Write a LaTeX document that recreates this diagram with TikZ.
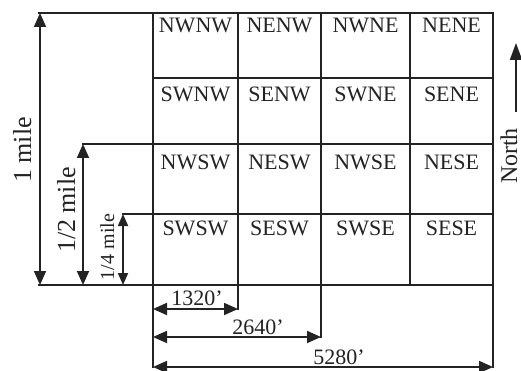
\documentclass[tikz,border=0pt]{standalone}
\usepackage{fontspec}
\setmainfont{Liberation Serif}
\usetikzlibrary{arrows.meta}
\definecolor{ink}{RGB}{35,35,35}
\begin{document}
\begin{tikzpicture}[x=1pt,y=-1pt,
  gridline/.style={draw=ink, line width=1.8pt, line cap=rect},
  dim/.style={draw=ink, line width=1.8pt, {Triangle[length=14pt,width=12pt]}-{Triangle[length=14pt,width=12pt]}},
  smalldim/.style={draw=ink, line width=1.8pt, {Triangle[length=12pt,width=10pt]}-{Triangle[length=12pt,width=10pt]}},
  cell/.style={font=\fontsize{22}{24}\selectfont, text=ink, inner sep=0pt},
  dimlabel/.style={font=\fontsize{22}{24}\selectfont, text=ink, inner sep=0pt, anchor=base},
  vlabel/.style={font=\fontsize{26}{28}\selectfont, text=ink, inner sep=0pt, anchor=base, rotate=90},
  svlabel/.style={font=\fontsize{20}{22}\selectfont, text=ink, inner sep=0pt, anchor=base, rotate=90}]
\useasboundingbox (0,0) rectangle (521,371);
\fill[white] (0,0) rectangle (521,371);

% grid and extension lines
\draw[gridline] (39,13) -- (493,13);
\draw[gridline] (39,285) -- (493,285);
\draw[gridline] (153,78) -- (493,78);
\draw[gridline] (83,144) -- (493,144);
\draw[gridline] (123,214) -- (493,214);
\draw[gridline] (153,13) -- (153,367);
\draw[gridline] (238,13) -- (238,309);
\draw[gridline] (321,13) -- (321,337);
\draw[gridline] (410,13) -- (410,285);
\draw[gridline] (493,13) -- (493,367);

% cell labels
\node[cell] (nwnw) at (195.5,25) {NWNW};
\node[cell] (nenw) at (279.5,25) {NENW};
\node[cell] (nwne) at (365.5,25) {NWNE};
\node[cell] (nene) at (451.5,25) {NENE};
\node[cell] (swnw) at (195.5,94) {SWNW};
\node[cell] (senw) at (279.5,94) {SENW};
\node[cell] (swne) at (365.5,94) {SWNE};
\node[cell] (sene) at (451.5,94) {SENE};
\node[cell] (nwsw) at (195.5,162) {NWSW};
\node[cell] (nesw) at (279.5,162) {NESW};
\node[cell] (nwse) at (365.5,162) {NWSE};
\node[cell] (nese) at (451.5,162) {NESE};
\node[cell] (swsw) at (195.5,228) {SWSW};
\node[cell] (sesw) at (279.5,228) {SESW};
\node[cell] (swse) at (365.5,228) {SWSE};
\node[cell] (sese) at (451.5,228) {SESE};

% dimension end points
\coordinate (m1t) at (40,13);
\coordinate (m1b) at (40,285);
\coordinate (m2t) at (83,144);
\coordinate (m2b) at (83,285);
\coordinate (m4t) at (123,214);
\coordinate (m4b) at (123,285);
\coordinate (f1l) at (153,309);
\coordinate (f1r) at (238,309);
\coordinate (f2l) at (153,337);
\coordinate (f2r) at (321,337);
\coordinate (f5l) at (153,367);
\coordinate (f5r) at (493,367);
\coordinate (nb) at (516,112);
\coordinate (nt) at (516,43);

% dimension arrows
\draw[dim] (m1t) -- (m1b);
\draw[dim] (m2t) -- (m2b);
\draw[smalldim] (m4t) -- (m4b);
\draw[dim] (f1l) -- (f1r);
\draw[dim] (f2l) -- (f2r);
\draw[dim] (f5l) -- (f5r);
\draw[draw=ink, line width=1.8pt, -{Triangle[length=17pt,width=12pt]}] (nb) -- (nt);

% dimension labels
\node[vlabel] (l1) at (31,150) {1 mile};
\node[vlabel] (l2) at (75,210) {1/2 mile};
\node[svlabel] (l4) at (114,247) {1/4 mile};
\node[dimlabel] (d1) at (197,305) {1320’};
\node[dimlabel] (d2) at (258,334) {2640’};
\node[dimlabel] (d5) at (339,364) {5280’};
\node[font=\fontsize{24}{26}\selectfont, text=ink, inner sep=0pt, anchor=base, rotate=90] (north) at (517,156) {North};
\end{tikzpicture}
\end{document}
